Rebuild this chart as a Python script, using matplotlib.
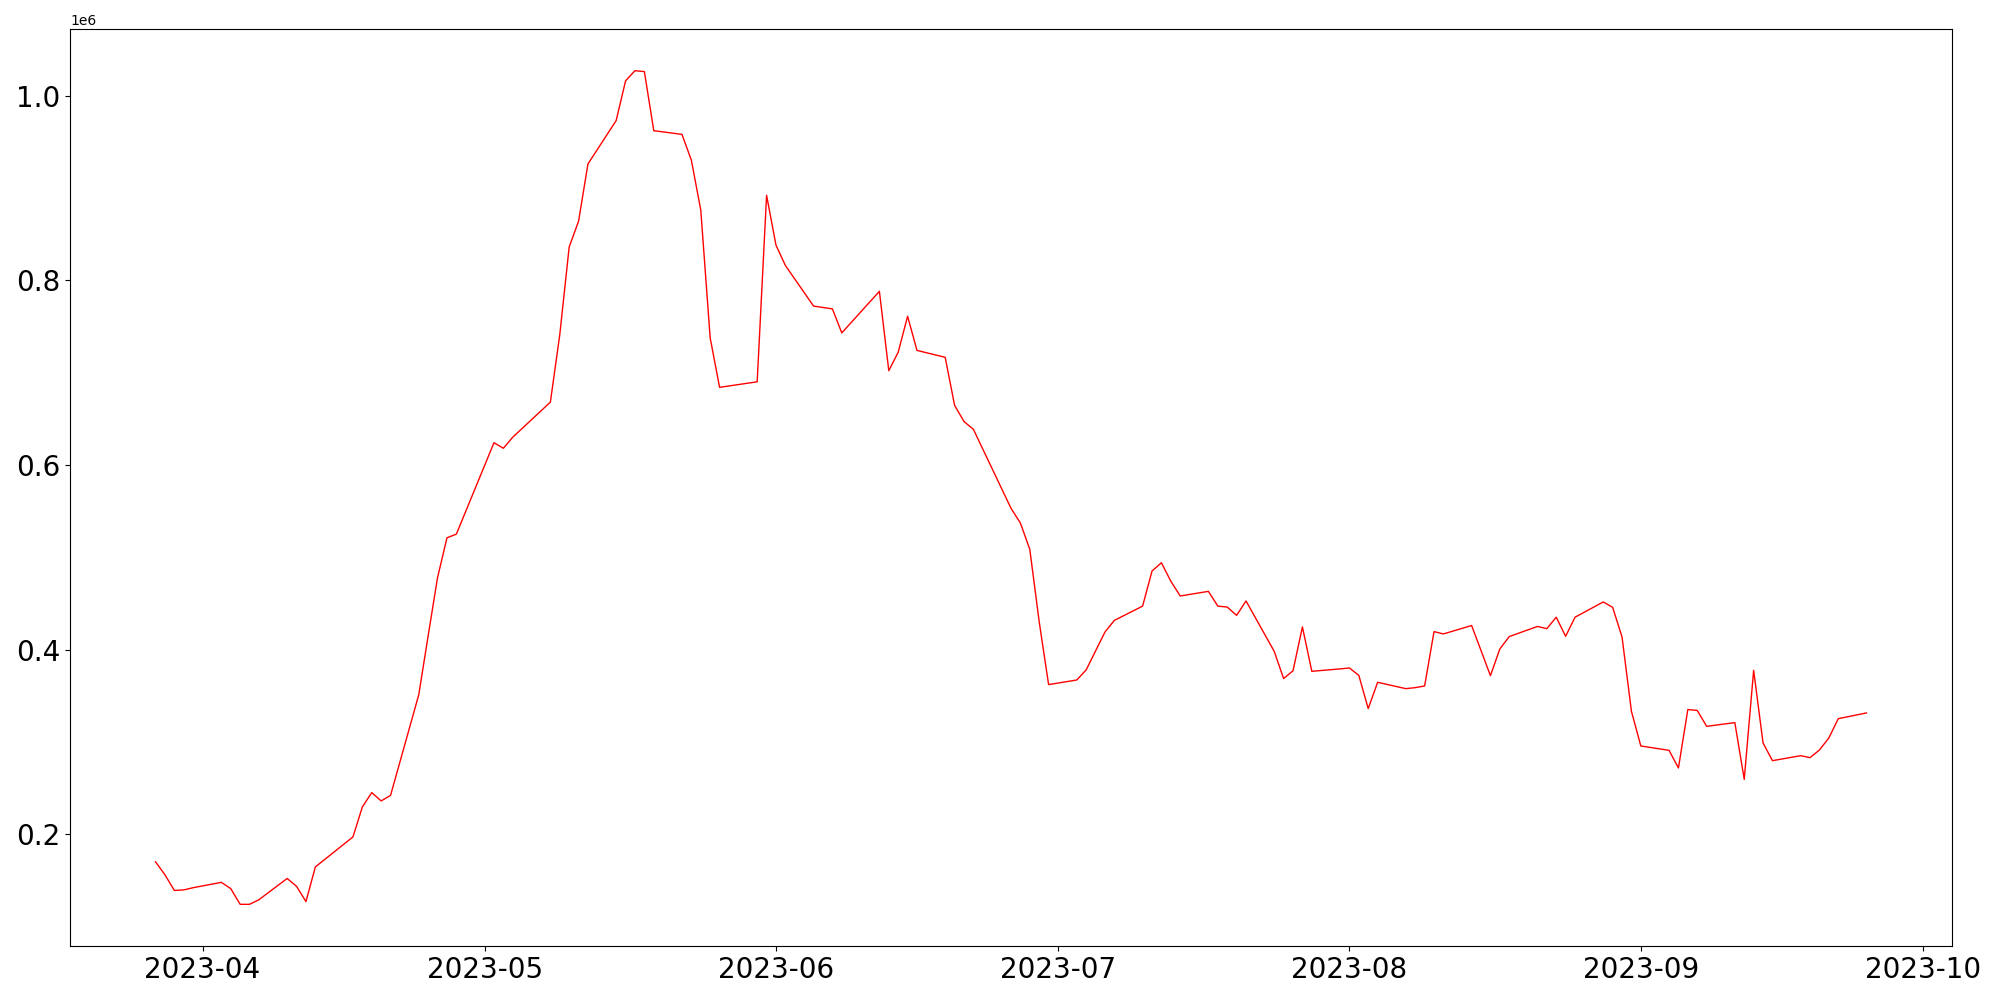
'''
    Daily series, Mar - Sep 2023, plotted as a single red line
'''

import numpy as np
import pandas as pd
import matplotlib
matplotlib.use("Agg")
import matplotlib.pyplot as plt


# Dates of each observation
dates = [
    "2023-03-27", "2023-03-28", "2023-03-29", "2023-03-30", "2023-03-31",
    "2023-04-03", "2023-04-04", "2023-04-05", "2023-04-06", "2023-04-07",
    "2023-04-10", "2023-04-11", "2023-04-12", "2023-04-13",
    "2023-04-17", "2023-04-18", "2023-04-19", "2023-04-20", "2023-04-21",
    "2023-04-24", "2023-04-25", "2023-04-26", "2023-04-27", "2023-04-28",
    "2023-05-02", "2023-05-03", "2023-05-04",
    "2023-05-08", "2023-05-09", "2023-05-10", "2023-05-11", "2023-05-12",
    "2023-05-15", "2023-05-16", "2023-05-17", "2023-05-18", "2023-05-19",
    "2023-05-22", "2023-05-23", "2023-05-24", "2023-05-25", "2023-05-26",
    "2023-05-30", "2023-05-31", "2023-06-01", "2023-06-02",
    "2023-06-05", "2023-06-07", "2023-06-08",
    "2023-06-12", "2023-06-13", "2023-06-14", "2023-06-15", "2023-06-16",
    "2023-06-19", "2023-06-20", "2023-06-21", "2023-06-22",
    "2023-06-26", "2023-06-27", "2023-06-28", "2023-06-29", "2023-06-30",
    "2023-07-03", "2023-07-04", "2023-07-06", "2023-07-07",
    "2023-07-10", "2023-07-11", "2023-07-12", "2023-07-13", "2023-07-14",
    "2023-07-17", "2023-07-18", "2023-07-19", "2023-07-20", "2023-07-21",
    "2023-07-24", "2023-07-25", "2023-07-26", "2023-07-27", "2023-07-28",
    "2023-07-31", "2023-08-01", "2023-08-02", "2023-08-03", "2023-08-04",
    "2023-08-07", "2023-08-08", "2023-08-09", "2023-08-10", "2023-08-11",
    "2023-08-14", "2023-08-16", "2023-08-17", "2023-08-18",
    "2023-08-21", "2023-08-22", "2023-08-23", "2023-08-24", "2023-08-25",
    "2023-08-28", "2023-08-29", "2023-08-30", "2023-08-31", "2023-09-01",
    "2023-09-04", "2023-09-05", "2023-09-06", "2023-09-07", "2023-09-08",
    "2023-09-11", "2023-09-12", "2023-09-13", "2023-09-14", "2023-09-15",
    "2023-09-18", "2023-09-19", "2023-09-20", "2023-09-21", "2023-09-22",
    "2023-09-25",
]

# Values in millions
values_mil = [
    0.170, 0.156, 0.139, 0.1396, 0.142,
    0.1478, 0.141, 0.124, 0.124, 0.129,
    0.152, 0.1435, 0.127, 0.1645,
    0.197, 0.2295, 0.245, 0.236, 0.242,
    0.351, 0.415, 0.478, 0.521, 0.525,
    0.624, 0.618, 0.630,
    0.668, 0.741, 0.836, 0.864, 0.926,
    0.973, 1.016, 1.027, 1.026, 0.962,
    0.958, 0.930, 0.876, 0.7375, 0.684,
    0.690, 0.892, 0.838, 0.816,
    0.772, 0.769, 0.743,
    0.788, 0.702, 0.722, 0.761, 0.724,
    0.7165, 0.6645, 0.647, 0.6385,
    0.553, 0.537, 0.5085, 0.430, 0.362,
    0.367, 0.378, 0.419, 0.4316,
    0.447, 0.485, 0.494, 0.474, 0.458,
    0.463, 0.447, 0.446, 0.437, 0.4526,
    0.398, 0.3685, 0.377, 0.4245, 0.3764,
    0.379, 0.380, 0.372, 0.336, 0.3645,
    0.3576, 0.3587, 0.3605, 0.4194, 0.4169,
    0.426, 0.3717, 0.4006, 0.414,
    0.425, 0.4226, 0.435, 0.4143, 0.435,
    0.4515, 0.4457, 0.4136, 0.333, 0.2955,
    0.2908, 0.2717, 0.335, 0.334, 0.3168,
    0.3208, 0.2594, 0.3775, 0.2988, 0.2796,
    0.285, 0.2829, 0.2912, 0.3042, 0.3251,
    0.3313,
]

x_dates = pd.to_datetime(dates)
y_vals = np.array(values_mil) * 1e6


''' Plot '''

fig, ax = plt.subplots(figsize=(20, 10), dpi=100)

ax.plot(x_dates, y_vals, color='red', linewidth=1.0)

plt.xticks(fontsize=20)
plt.yticks(fontsize=20)

plt.subplots_adjust(left=0.035, right=0.976, top=0.971, bottom=0.054)

plt.savefig('out.png')
